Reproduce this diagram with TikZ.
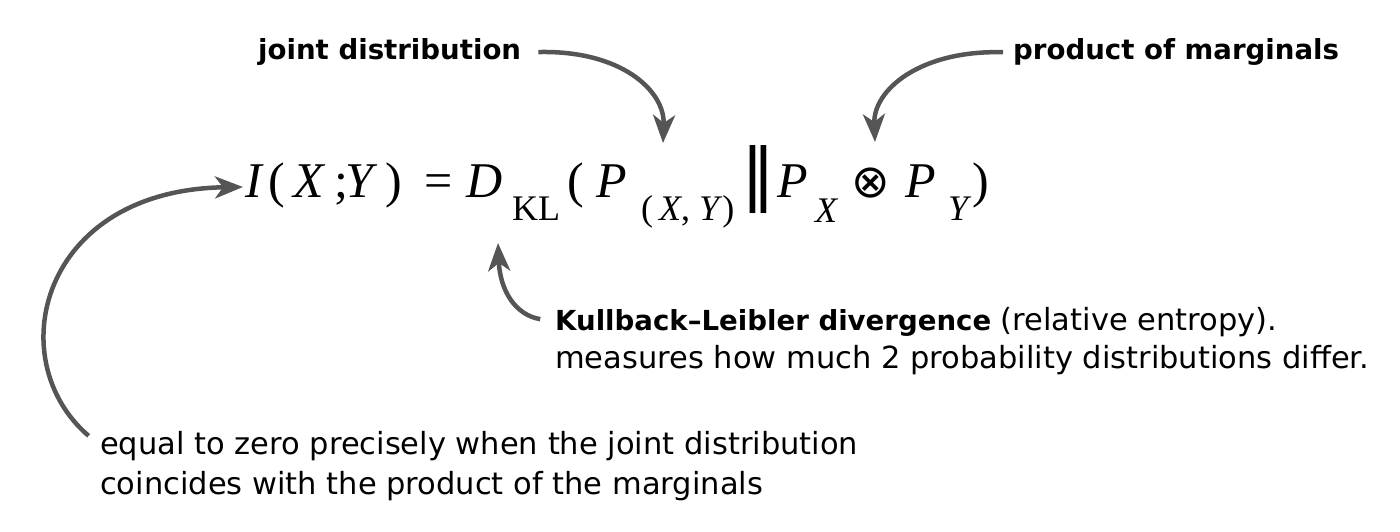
\documentclass[tikz,border=0pt]{standalone}
\usepackage{fontspec}
\usepackage{xcolor}
\usepackage{tikz}
\usetikzlibrary{arrows.meta}
\setmainfont{DejaVu Sans}
\newfontfamily\eqfont{Liberation Serif}
\newfontfamily\symfont{DejaVu Sans}
\definecolor{arrowgray}{HTML}{555555}

\begin{document}
\begin{tikzpicture}[x=1pt,y=-1pt,
    eq/.style={anchor=base west,inner sep=0pt,font=\eqfont\fontsize{50}{60}\selectfont},
    eqsub/.style={anchor=base west,inner sep=0pt,font=\eqfont\fontsize{36}{42}\selectfont},
    lbl/.style={anchor=base west,inner sep=0pt,font=\fontsize{30.5}{36}\selectfont},
    lblbold/.style={anchor=base west,inner sep=0pt,font=\bfseries\fontsize{27.6}{32}\selectfont},
    arr/.style={arrowgray,line width=4.5pt,-{Stealth[length=28pt,width=22pt,inset=8pt]}}]
    \useasboundingbox (0,0) rectangle (1400,532);
    % the formula
    \node[eq] (eqI) at (245,197) {\textit{I}};
    \node[eq] (eqLpa) at (268,197) {(};
    \node[eq] (eqXa) at (293,197) {\textit{X}};
    \node[eq] (eqSemi) at (334,197) {;};
    \node[eq] (eqYa) at (345,197) {\textit{Y}};
    \node[eq] (eqRpa) at (385,197) {)};
    \node[eq] (eqEq) at (424,197) {=};
    \node[eq] (eqD) at (466,197) {\textit{D}};
    \node[eqsub] (eqKL) at (512,220) {KL};
    \node[eq] (eqLp) at (567,197) {(};
    \node[eq] (eqP) at (596,197) {\textit{P}};
    \node[eqsub] (eqXY) at (641,220) {(\,\textit{X}, \textit{Y})};
    \node[eq] (eqNorm) at (751,197) {\makebox[15pt][c]{\symfont\fontsize{68}{80}\selectfont ‖}};
    \node[eq] (eqPX) at (777,197) {\textit{P}};
    \node[eqsub] (eqX) at (815,222) {\textit{X}};
    \node[eq] (eqOt) at (851,197) {\symfont\fontsize{46}{50}\selectfont ⊗};
    \node[eq] (eqPY) at (905,197) {\textit{P}};
    \node[eqsub] (eqY) at (948,220) {\textit{Y}};
    \node[eq] (eqRp) at (972,197) {)};
    % labels
    \node[lblbold] (lblJoint) at (258,60) {joint distribution};
    \node[lblbold] (lblProd) at (1013,60) {product of marginals};
    \node[lbl] (lblKL) at (555,330) {{\bfseries\fontsize{27.6}{32}\selectfont Kullback--Leibler divergence} (relative entropy).};
    \node[lbl] (lblKLb) at (555,368) {measures how much 2 probability distributions differ.};
    \node[lbl] (lblZero) at (100,454) {equal to zero precisely when the joint distribution};
    \node[lbl] (lblZerob) at (100,494) {coincides with the product of the marginals};
    % arrow tips
    \coordinate (tipJoint) at (663,143);
    \coordinate (tipProd) at (875,142);
    \coordinate (tipKL) at (498,243);
    \coordinate (tipI) at (243,187);
    % arrows
    \draw[arr,shorten <=17pt] (lblJoint.east) .. controls (620,50) and (665,90) .. (tipJoint);
    \draw[arr,shorten <=10pt] (lblProd.west) .. controls (920,50) and (873,90) .. (tipProd);
    \draw[arr,shorten <=15pt] (lblKL.west) .. controls (515,315) and (500,290) .. (tipKL);
    \draw[arr,shorten <=15pt] (lblZero.west) .. controls (0,360) and (40,190) .. (tipI);
\end{tikzpicture}
\end{document}
